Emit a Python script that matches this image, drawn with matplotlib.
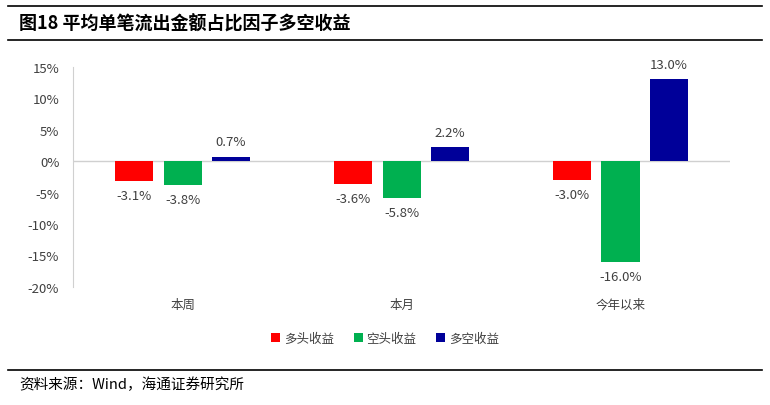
import numpy as np
import matplotlib.pyplot as plt
from matplotlib.lines import Line2D

plt.rcParams['font.family'] = ['Noto Sans CJK SC', 'DejaVu Sans']

categories = ['本周', '本月', '今年以来']
series_names = ['多头收益', '空头收益', '多空收益']
long_ret = [-3.1, -3.6, -3.0]
short_ret = [-3.8, -5.8, -16.0]
ls_ret = [0.7, 2.2, 13.0]
colors = ['#FF0000', '#00B050', '#000099']
yticks = [15, 10, 5, 0, -5, -10, -15, -20]

fig = plt.figure(figsize=(7.7, 4.06), dpi=100)
ax = fig.add_axes([0.095, 0.291, 0.853, 0.542])

x = np.arange(len(categories))
w = 0.174
offsets = [-0.22, 0, 0.22]
for vals, off, c, name in zip([long_ret, short_ret, ls_ret], offsets, colors, series_names):
    bars = ax.bar(x + off, vals, w, color=c, label=name)
    for b, v in zip(bars, vals):
        if v >= 0:
            ax.annotate(f'{v:.1f}%', (b.get_x() + b.get_width() / 2, v), xytext=(0, 6),
                        textcoords='offset points', ha='center', va='bottom', fontsize=9.5, color='#404040')
        else:
            ax.annotate(f'{v:.1f}%', (b.get_x() + b.get_width() / 2, v), xytext=(0, -6),
                        textcoords='offset points', ha='center', va='top', fontsize=9.5, color='#404040')

ax.set_xlim(-0.5, 2.5)
ax.set_ylim(-20, 15)
ax.set_yticks(yticks)
ax.set_yticklabels([f'{t}%' for t in yticks], fontsize=9.5, color='#404040')
ax.set_xticks(x)
ax.set_xticklabels(categories, fontsize=9, color='#404040')
ax.tick_params(axis='x', length=0, pad=8)
ax.tick_params(axis='y', length=0, pad=10)
ax.axhline(0, color='#D0D0D0', lw=1, zorder=0)
for s in ['top', 'right', 'bottom']:
    ax.spines[s].set_visible(False)
ax.spines['left'].set_color('#D0D0D0')

ax.legend(loc='upper center', bbox_to_anchor=(0.475, -0.155), ncol=3, frameon=False,
          fontsize=9, handlelength=0.7, handleheight=0.7, handletextpad=0.3, columnspacing=1.6,
          labelcolor='#404040')

# header / footer rules and text
fig.add_artist(Line2D([0.01, 0.99], [1 - 7 / 406, 1 - 7 / 406], color='black', lw=1.2))
fig.add_artist(Line2D([0.01, 0.99], [1 - 41 / 406, 1 - 41 / 406], color='black', lw=1.2))
fig.add_artist(Line2D([0.01, 0.99], [1 - 371 / 406, 1 - 371 / 406], color='black', lw=1.2))
fig.text(0.025, 1 - 24 / 406, '图18 平均单笔流出金额占比因子多空收益', fontsize=13, fontweight='bold', va='center')
fig.text(0.025, 1 - 385 / 406, '资料来源：Wind，海通证券研究所', fontsize=10.5, va='center')

fig.savefig('out.png', dpi=100)
